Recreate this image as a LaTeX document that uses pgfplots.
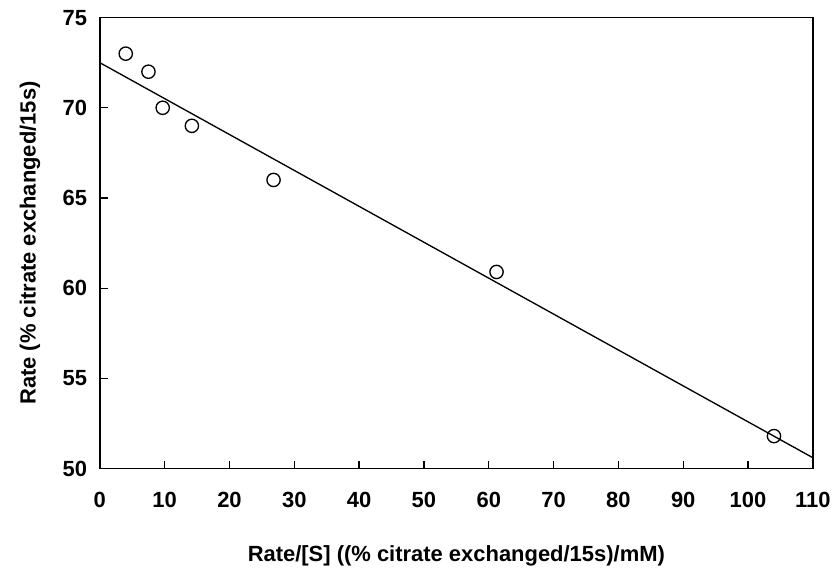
\documentclass[border=0pt]{standalone}
\usepackage{pgfplots}
\pgfplotsset{compat=1.18}
\usepackage{fontspec}
\setmainfont{Liberation Sans}
\begin{document}
\begin{tikzpicture}
\begin{axis}[
  scale only axis,
  width=536pt, height=339pt,
  xmin=0, xmax=110, ymin=50, ymax=75,
  xtick={0,10,...,110}, ytick={50,55,...,75},
  tick align=inside,
  major tick length=6pt,
  tick style={line width=1pt, black},
  axis line style={line width=1.1pt},
  xtick pos=bottom, ytick pos=left,
  clip=false,
  /pgf/number format/assume math mode=true,
  tick label style={font=\fontsize{16.5}{18}\selectfont\bfseries},
  xticklabel style={yshift=-14pt},
  yticklabel style={xshift=-6pt},
  label style={font=\fontsize{16.5}{18}\selectfont\bfseries},
  xlabel={Rate/[S] ((\% citrate exchanged/15s)/mM)},
  ylabel={Rate (\% citrate exchanged/15s)},
  xlabel style={yshift=-22pt},
  ylabel style={yshift=10pt},
]
\path (rel axis cs:-0.14,-0.219) rectangle (rel axis cs:1.028,1.039);
\addplot[only marks, mark=o, mark size=5pt, mark options={line width=1pt}] coordinates {
(4.0,73.0) (7.5,72.0) (9.7,70.0) (14.2,69.0) (26.8,66.0) (61.2,60.9) (104.0,51.8)
};
\addplot[line width=1pt, no marks] coordinates {(0,72.5) (110,50.6)};
\end{axis}
\end{tikzpicture}
\end{document}
